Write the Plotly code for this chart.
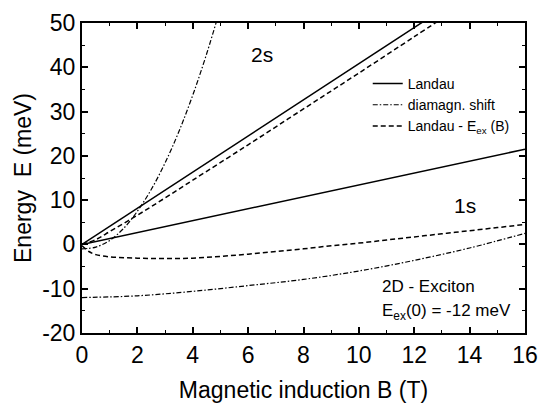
import plotly.graph_objects as go

# Magnetic induction B (T)
B_land = [0, 16]
landau_1s = [0, 21.5]
landau_2s = [0, 65.3]

B_dia_1s = [0, 2, 4, 6, 8, 10, 12, 14, 16]
dia_1s = [-12.0, -11.6, -10.6, -9.3, -7.9, -6.0, -3.6, -0.8, 2.5]

B_dia_2s = [0, 0.5, 1, 1.5, 2, 2.5, 3, 3.5, 4, 4.5, 5]
dia_2s = [-1.0, -0.6, 0.9, 3.6, 7.5, 12.4, 18.4, 25.5, 33.7, 43.0, 53.4]

B_lex_1s = [0, 0.25, 0.5, 1, 2, 3, 4, 5, 6, 7, 8, 9, 10, 11, 12, 13, 14, 15, 16]
lex_1s = [-0.3, -1.6, -2.3, -2.8, -3.1, -3.2, -3.1, -2.7, -2.2, -1.6, -1.0, -0.3,
          0.3, 1.0, 1.7, 2.4, 3.1, 3.8, 4.5]

B_lex_2s = [0, 0.5, 1, 2, 3, 4, 6, 8, 10, 12, 13]
lex_2s = [0, 1.1, 2.9, 6.6, 10.5, 14.5, 22.5, 30.6, 38.7, 46.9, 51.0]

x_ticks = [0, 2, 4, 6, 8, 10, 12, 14, 16]
y_ticks = [-20, -10, 0, 10, 20, 30, 40, 50]
y_ticktext = ["-20", "-10", "0", "10", "20", "30", "40", "50"]

FONT = "Liberation Sans, Arial, sans-serif"
DASH = "5px,3px"
DASHDOT = "5px,2px,1.5px,2px"
lw = 1.5

fig = go.Figure()
fig.add_trace(go.Scatter(x=B_land, y=landau_2s, mode="lines", name="Landau",
                         line=dict(color="black", width=lw), showlegend=True))
fig.add_trace(go.Scatter(x=B_land, y=landau_1s, mode="lines", name="Landau",
                         line=dict(color="black", width=lw), showlegend=False))
fig.add_trace(go.Scatter(x=B_dia_2s, y=dia_2s, mode="lines", name="diamagn. shift",
                         line=dict(color="black", width=1.2, dash=DASHDOT, shape="spline"),
                         showlegend=True))
fig.add_trace(go.Scatter(x=B_dia_1s, y=dia_1s, mode="lines", name="diamagn. shift",
                         line=dict(color="black", width=1.2, dash=DASHDOT, shape="spline"),
                         showlegend=False))
fig.add_trace(go.Scatter(x=B_lex_2s, y=lex_2s, mode="lines",
                         name="Landau - E<sub>ex</sub> (B)",
                         line=dict(color="black", width=lw, dash=DASH, shape="spline"),
                         showlegend=True))
fig.add_trace(go.Scatter(x=B_lex_1s, y=lex_1s, mode="lines",
                         name="Landau - E<sub>ex</sub> (B)",
                         line=dict(color="black", width=lw, dash=DASH, shape="spline"),
                         showlegend=False))

axis_common = dict(
    showline=True, linecolor="black", linewidth=2, mirror="ticks",
    ticks="inside", ticklen=6, tickwidth=1.5, tickcolor="black",
    showgrid=False, zeroline=False, ticklabeloverflow="allow",
    tickfont=dict(family=FONT, size=23, color="black"),
)

fig.update_xaxes(range=[0, 16], tickmode="array", tickvals=x_ticks,
                 ticktext=[str(v) for v in x_ticks],
                 minor=dict(dtick=1, ticks="inside", ticklen=3, tickcolor="black", tickwidth=1.2),
                 title=dict(text="Magnetic induction B (T)",
                            font=dict(family=FONT, size=23, color="black"), standoff=15),
                 **axis_common)
fig.update_yaxes(range=[-20, 50], tickmode="array", tickvals=y_ticks, ticktext=y_ticktext,
                 minor=dict(dtick=5, ticks="inside", ticklen=3, tickcolor="black", tickwidth=1.2),
                 title=dict(text="Energy\u00a0\u00a0E (meV)",
                            font=dict(family=FONT, size=23, color="black"), standoff=4),
                 **axis_common)

fig.add_annotation(x=6.5, y=43.0, text="2s", showarrow=False,
                   font=dict(family=FONT, size=21, color="black"))
fig.add_annotation(x=13.85, y=8.7, text="1s", showarrow=False,
                   font=dict(family=FONT, size=21, color="black"))
fig.add_annotation(x=10.75, y=-9.5, text="2D - Exciton", showarrow=False,
                   xanchor="left", font=dict(family=FONT, size=17, color="black"))
fig.add_annotation(x=10.75, y=-15.3, text="E<sub>ex</sub>(0) = -12 meV", showarrow=False,
                   xanchor="left", font=dict(family=FONT, size=17, color="black"))

fig.update_layout(
    width=549, height=409,
    margin=dict(l=82, r=24, t=10, b=75),
    paper_bgcolor="white", plot_bgcolor="white",
    showlegend=True,
    legend=dict(x=0.645, y=0.855, xanchor="left", yanchor="top",
                bgcolor="rgba(0,0,0,0)", borderwidth=0, tracegroupgap=0,
                font=dict(family=FONT, size=14, color="black")),
)

fig.write_html("out.html")
